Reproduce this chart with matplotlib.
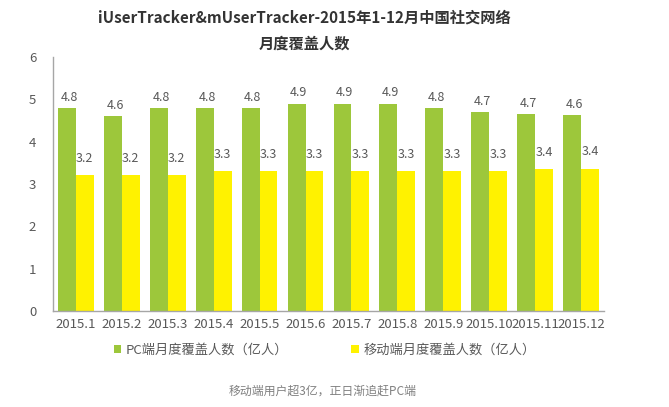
import matplotlib.pyplot as plt
import numpy as np

plt.rcParams['font.family'] = ['Noto Sans CJK SC', 'DejaVu Sans']

months = ['2015.1', '2015.2', '2015.3', '2015.4', '2015.5', '2015.6',
          '2015.7', '2015.8', '2015.9', '2015.10', '2015.11', '2015.12']
pc_users = [4.8, 4.6, 4.8, 4.8, 4.8, 4.9, 4.9, 4.9, 4.8, 4.7, 4.65, 4.62]
mobile_users = [3.2, 3.2, 3.2, 3.3, 3.3, 3.3, 3.3, 3.3, 3.3, 3.3, 3.35, 3.36]

green = '#9DC73B'
yellow = '#FFF200'
grey = '#595959'

fig = plt.figure(figsize=(6.69, 4.07), dpi=100)
ax = fig.add_axes([0.079, 0.236, 0.824, 0.624])

x = np.arange(len(months))
w = 0.39
b1 = ax.bar(x - w / 2, pc_users, w, color=green, label='PC端月度覆盖人数（亿人）')
b2 = ax.bar(x + w / 2, mobile_users, w, color=yellow, label='移动端月度覆盖人数（亿人）')

for xi, v in zip(x, pc_users):
    ax.text(xi - w / 2 + 0.05, v + 0.1, f'{v:.1f}', ha='center', va='bottom',
            fontsize=9, color=grey)
for xi, v in zip(x, mobile_users):
    ax.text(xi + w / 2, v + 0.25, f'{v:.1f}', ha='center', va='bottom',
            fontsize=9, color=grey)

ax.set_xlim(-0.5, len(months) - 0.5)
ax.set_ylim(0, 6)
ax.set_yticks(range(7))
ax.set_xticks(x)
ax.set_xticklabels(months)
ax.tick_params(length=0, labelsize=9.5, colors=grey)
ax.tick_params(axis='y', pad=12)
ax.tick_params(axis='x', pad=5)
for s in ['top', 'right']:
    ax.spines[s].set_visible(False)
for s in ['left', 'bottom']:
    ax.spines[s].set_color('#A6A6A6')
    ax.spines[s].set_linewidth(1)

leg = fig.legend(handles=[b1, b2], loc='center', bbox_to_anchor=(0.485, 0.14),
                 ncol=2, frameon=False, fontsize=9.5, handlelength=0.6,
                 handleheight=0.6, handletextpad=0.3, columnspacing=4.8)
for t in leg.get_texts():
    t.set_color(grey)

fig.text(0.455, 0.958, 'iUserTracker&mUserTracker-2015年1-12月中国社交网络',
         ha='center', va='center', fontsize=11, fontweight='bold', color='#333333')
fig.text(0.455, 0.893, '月度覆盖人数', ha='center', va='center',
         fontsize=11, fontweight='bold', color='#333333')

fig.text(0.482, 0.038, '移动端用户超3亿，正日渐追赶PC端', ha='center', va='center',
         fontsize=8.6, color='#808080')

fig.savefig('out.png', dpi=100)
